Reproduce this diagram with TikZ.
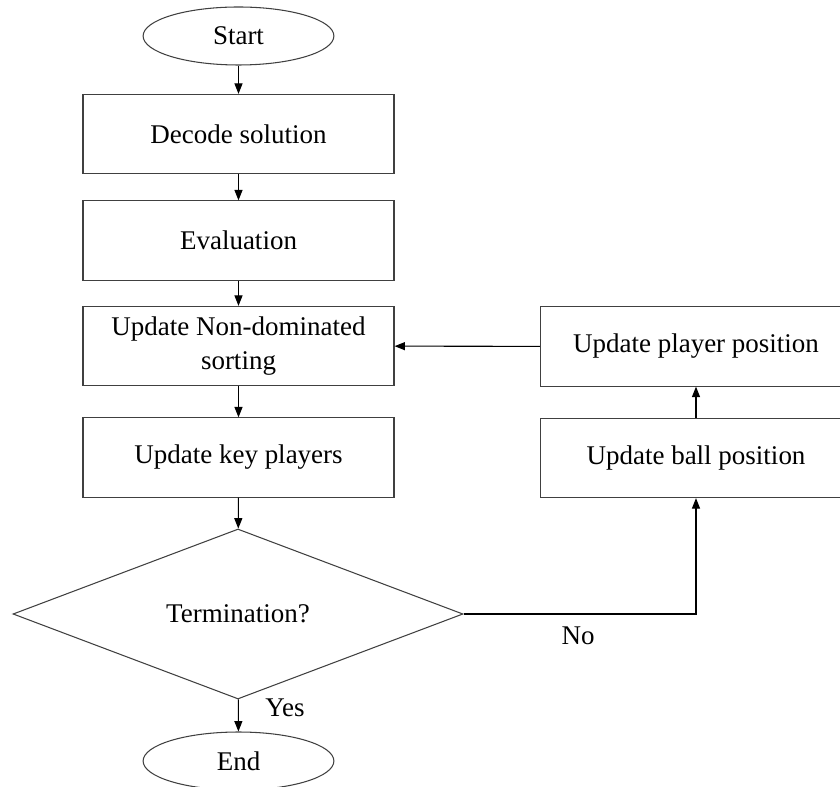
\documentclass[tikz,border=0pt]{standalone}
\usepackage{fontspec}
\setmainfont{Liberation Serif}
\usetikzlibrary{shapes.geometric,arrows.meta}

\begin{document}
\begin{tikzpicture}[x=0.25mm, y=-0.25mm,
  font=\fontsize{19.2}{24.5}\selectfont,
  every node/.style={inner sep=0pt},
  process/.style={draw=black!75, line width=0.75pt, minimum width=77.75mm, minimum height=19.8mm, align=center},
  terminal/.style={draw=black!75, line width=0.75pt, ellipse, minimum width=47.7mm, minimum height=14.5mm},
  decision/.style={draw=black!75, line width=0.75pt, diamond, minimum width=112.5mm, minimum height=42.5mm},
  flow/.style={line width=0.75pt, -{Triangle[length=2.6mm, width=2mm]}}]

\clip (0,0) rectangle (840,787);

\node[terminal] (start) at (238.5,36) {Start};
\node[process] (decode) at (238.5,134) {Decode solution};
\node[process] (eval) at (238.5,240.5) {Evaluation};
\node[process] (sort) at (238.5,346) {Update Non-dominated\\sorting};
\node[process] (key) at (238.5,457.5) {Update key players};
\node[decision] (term) at (238,614) {Termination?};
\node[terminal] (stop) at (238.5,761) {End};

\node[process] (player) at (696,346.5) {Update player position};
\node[process] (ball) at (696,458) {Update ball position};

\node (yes) at (285,708) {Yes};
\node (no) at (578,636) {No};

\draw[flow] (start) -- (decode);
\draw[flow] (decode) -- (eval);
\draw[flow] (eval) -- (sort);
\draw[flow] (sort) -- (key);
\draw[flow] (key) -- (term);
\draw[flow] (term) -- (stop);
\draw[flow] (term.east) -| (ball.south);
\draw[flow] (ball) -- (player);
\draw[flow] (player) -- (sort);

\end{tikzpicture}
\end{document}
